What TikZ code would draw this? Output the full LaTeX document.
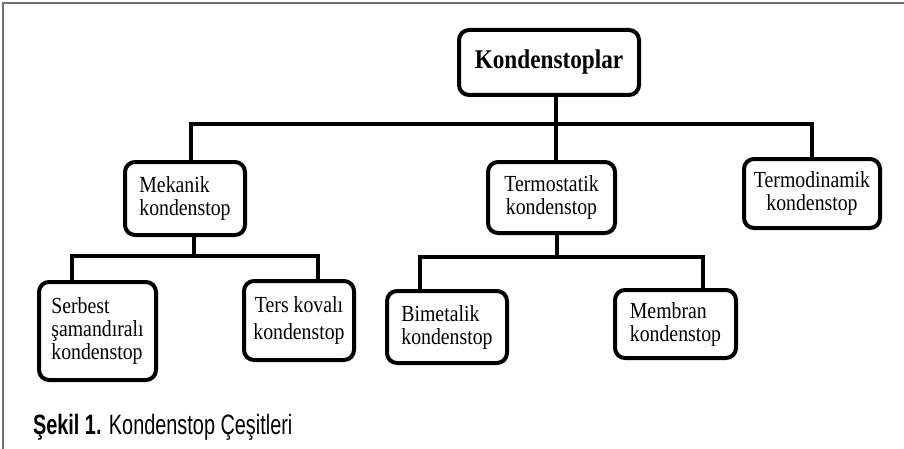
\documentclass[tikz,border=0pt]{standalone}
\usepackage{fontspec}
\setmainfont{Liberation Serif}[FakeStretch=0.86]
\newfontfamily\capfont[FakeStretch=0.71]{Liberation Sans}
\tikzset{
  kutu/.style={draw, line width=2pt, rounded corners=5pt, inner sep=1.5pt, font=\fontsize{11.5}{11.5}\selectfont},
  bag/.style={line width=2pt}
}
\begin{document}
\begin{tikzpicture}[x=0.5pt,y=-0.5pt]
            \useasboundingbox (0,0) rectangle (904,449);
            \draw [black!55, line width=0.7pt] (3,449) -- (3,3) -- (904,3);
            \node [kutu, minimum width=90pt, minimum height=32.5pt, font=\bfseries\fontsize{13.5}{14}\selectfont] (kond) at (549,62.5) {Kondenstoplar};
            \node [kutu, minimum width=60pt, minimum height=36.5pt, align=left] (mekanik) at (185,198.5) {Mekanik\\kondenstop};
            \node [kutu, minimum width=63.5pt, minimum height=35.5pt, align=center] (termostatik) at (551.5,197.5) {Termostatik\\kondenstop};
            \node [kutu, minimum width=68pt, minimum height=34.5pt, align=center] (termodinamik) at (812,193.5) {Termodinamik\\kondenstop};
            \node [kutu, minimum width=58.5pt, minimum height=49pt, align=left] (serbest) at (97.5,331) {Serbest\\şamandıralı\\kondenstop};
            \node [kutu, minimum width=55pt, minimum height=39.5pt, align=center] (ters) at (299,320.5) {Ters kovalı\\[2pt]kondenstop};
            \node [kutu, minimum width=60pt, minimum height=36pt, align=left] (bimetalik) at (447,327) {Bimetalik\\kondenstop};
            \node [kutu, minimum width=60.5pt, minimum height=34pt, align=left] (membran) at (675.5,324) {Membran\\kondenstop};
            \coordinate (u1) at (556,124);
            \coordinate (s1) at (191,124);
            \coordinate (r1) at (812,124);
            \draw [bag] (kond.south -| u1) -- (termostatik.north -| u1);
            \draw [bag] (mekanik.north -| s1) -- (s1) -- (r1) -- (termodinamik.north);
            \coordinate (u2) at (194,256);
            \coordinate (s2) at (72,256);
            \coordinate (r2) at (318,256);
            \draw [bag] (mekanik.south -| u2) -- (u2);
            \draw [bag] (serbest.north -| s2) -- (s2) -- (r2) -- (ters.north -| r2);
            \coordinate (u3) at (557,257);
            \coordinate (s3) at (420,257);
            \coordinate (r3) at (703,257);
            \draw [bag] (termostatik.south -| u3) -- (u3);
            \draw [bag] (bimetalik.north -| s3) -- (s3) -- (r3) -- (membran.north -| r3);
            \node [anchor=base west, font=\capfont\fontsize{14}{16}\selectfont] (baslik) at (26,434) {\textbf{Şekil 1.} Kondenstop Çeşitleri};
        \end{tikzpicture}
\end{document}
